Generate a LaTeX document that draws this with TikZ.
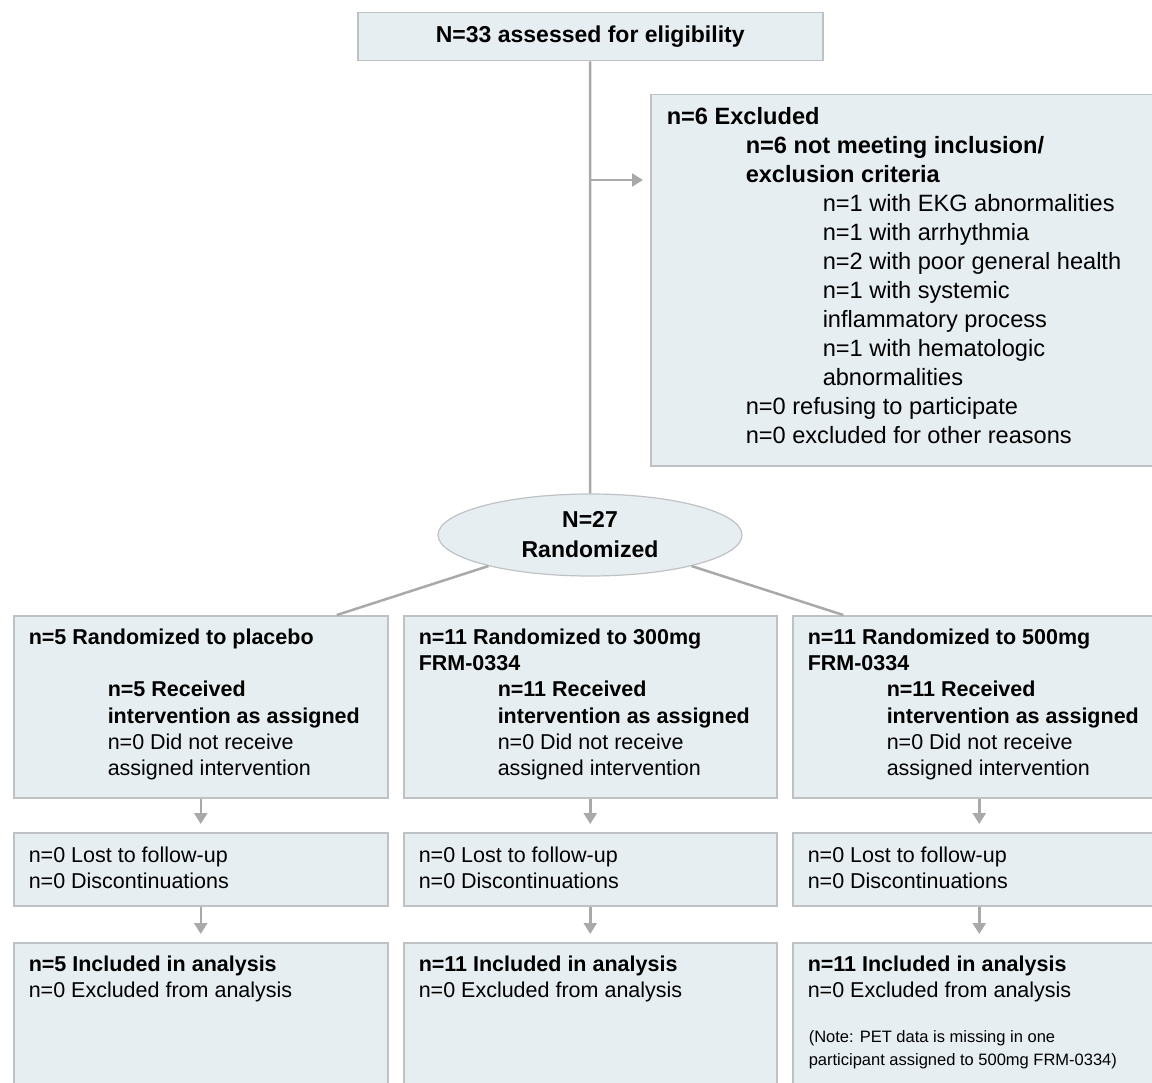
\documentclass[tikz,border=0pt]{standalone}
\usepackage{fontspec}
\setmainfont{Liberation Sans}
\definecolor{BoxFill}{HTML}{E7EEF2}
\definecolor{BoxLine}{HTML}{BFC2C5}
\definecolor{ConnGray}{HTML}{A9A9A9}
\usepackage{tikz}
\usetikzlibrary{positioning,shapes,arrows.meta}

\begin{document}
\begin{tikzpicture}[x=1pt, y=-1pt, line width=1.5pt, >={Triangle[width=13pt,length=11pt]},
    box/.style={
    draw=BoxLine,
    fill=BoxFill,
    rectangle,
    inner sep=0pt,
    anchor=north west},
    txt/.style={
    anchor=north west,
    inner sep=0pt,
    align=left,
    font=\fontsize{21.5}{26.3}\selectfont},
    conn/.style={draw=ConnGray, line width=2.5pt}]
    \useasboundingbox (0,0) rectangle (1152,1083);
    \clip (0,0) rectangle (1152,1083);

    \node [box, minimum width=465pt, minimum height=48pt,
           font=\fontsize{23}{29}\selectfont\bfseries] (Top) at (357,12) {N=33 assessed for eligibility};

    \node [box, minimum width=515pt, minimum height=371pt] (Excl) at (650,94) {};
    \node [txt, font=\fontsize{23.6}{29}\selectfont] (ExclTxt) at (666,107)
          {\textbf{n=6 Excluded}\\
           \hspace*{79pt}\textbf{n=6 not meeting inclusion/}\\
           \hspace*{79pt}\textbf{exclusion criteria}\\
           \hspace*{156pt}n=1 with EKG abnormalities\\
           \hspace*{156pt}n=1 with arrhythmia\\
           \hspace*{156pt}n=2 with poor general health\\
           \hspace*{156pt}n=1 with systemic\\
           \hspace*{156pt}inflammatory process\\
           \hspace*{156pt}n=1 with hematologic\\
           \hspace*{156pt}abnormalities\\
           \hspace*{79pt}n=0 refusing to participate\\
           \hspace*{79pt}n=0 excluded for other reasons};

    \node [draw=BoxLine, fill=BoxFill, ellipse, inner sep=0pt, line width=1.2pt,
           minimum width=304pt, minimum height=82pt, align=center,
           font=\fontsize{23}{30}\selectfont\bfseries] (Rand) at (590,535) {N=27\\Randomized};

    % randomized arms
    \node [box, minimum width=374pt, minimum height=182pt] (Placebo) at (13,615) {};
    \node [box, minimum width=373pt, minimum height=182pt] (Dose300) at (403,615) {};
    \node [box, minimum width=373pt, minimum height=182pt] (Dose500) at (792,615) {};

    \node [txt] (PlaceboTxt) at (28,628)
          {\textbf{n=5 Randomized to placebo}\\[26.3pt]
           \hspace*{79pt}\textbf{n=5 Received}\\
           \hspace*{79pt}\textbf{intervention as assigned}\\
           \hspace*{79pt}n=0 Did not receive\\
           \hspace*{79pt}assigned intervention};
    \node [txt] (Dose300Txt) at (418,628)
          {\textbf{n=11 Randomized to 300mg}\\
           \textbf{FRM-0334}\\
           \hspace*{79pt}\textbf{n=11 Received}\\
           \hspace*{79pt}\textbf{intervention as assigned}\\
           \hspace*{79pt}n=0 Did not receive\\
           \hspace*{79pt}assigned intervention};
    \node [txt] (Dose500Txt) at (807,628)
          {\textbf{n=11 Randomized to 500mg}\\
           \textbf{FRM-0334}\\
           \hspace*{79pt}\textbf{n=11 Received}\\
           \hspace*{79pt}\textbf{intervention as assigned}\\
           \hspace*{79pt}n=0 Did not receive\\
           \hspace*{79pt}assigned intervention};

    % follow-up
    \node [box, minimum width=374pt, minimum height=73pt] (PlaceboFU) at (13,832) {};
    \node [box, minimum width=373pt, minimum height=73pt] (Dose300FU) at (403,832) {};
    \node [box, minimum width=373pt, minimum height=73pt] (Dose500FU) at (792,832) {};

    \node [txt] (PlaceboFUTxt) at (28,846) {n=0 Lost to follow-up\\n=0 Discontinuations};
    \node [txt] (Dose300FUTxt) at (418,846) {n=0 Lost to follow-up\\n=0 Discontinuations};
    \node [txt] (Dose500FUTxt) at (807,846) {n=0 Lost to follow-up\\n=0 Discontinuations};

    % analysis
    \node [box, minimum width=374pt, minimum height=160pt] (PlaceboAn) at (13,942) {};
    \node [box, minimum width=373pt, minimum height=160pt] (Dose300An) at (403,942) {};
    \node [box, minimum width=373pt, minimum height=160pt] (Dose500An) at (792,942) {};

    \node [txt] (PlaceboAnTxt) at (28,955) {\textbf{n=5 Included in analysis}\\n=0 Excluded from analysis};
    \node [txt] (Dose300AnTxt) at (418,955) {\textbf{n=11 Included in analysis}\\n=0 Excluded from analysis};
    \node [txt] (Dose500AnTxt) at (807,955) {\textbf{n=11 Included in analysis}\\n=0 Excluded from analysis};
    \node [txt, font=\fontsize{16.5}{23}\selectfont] (NoteTxt) at (808,1030)
          {(Note: PET data is missing in one\\participant assigned to 500mg FRM-0334)};

    \coordinate (Branch) at (589.5,180);
    \draw[conn] (Top) -- (Rand);
    \draw[conn, ->, shorten >=7pt] (Branch) -- (Branch -| Excl.west);
    \draw[conn] (Rand.197) -- (Placebo.34);
    \draw[conn] (Rand.343) -- (Dose500.146);

    \draw[conn, ->, shorten >=8pt] (Placebo) -- (PlaceboFU);
    \draw[conn, ->, shorten >=8pt] (Dose300) -- (Dose300FU);
    \draw[conn, ->, shorten >=8pt] (Dose500) -- (Dose500FU);
    \draw[conn, ->, shorten >=8pt] (PlaceboFU) -- (PlaceboAn);
    \draw[conn, ->, shorten >=8pt] (Dose300FU) -- (Dose300An);
    \draw[conn, ->, shorten >=8pt] (Dose500FU) -- (Dose500An);
\end{tikzpicture}
\end{document}
